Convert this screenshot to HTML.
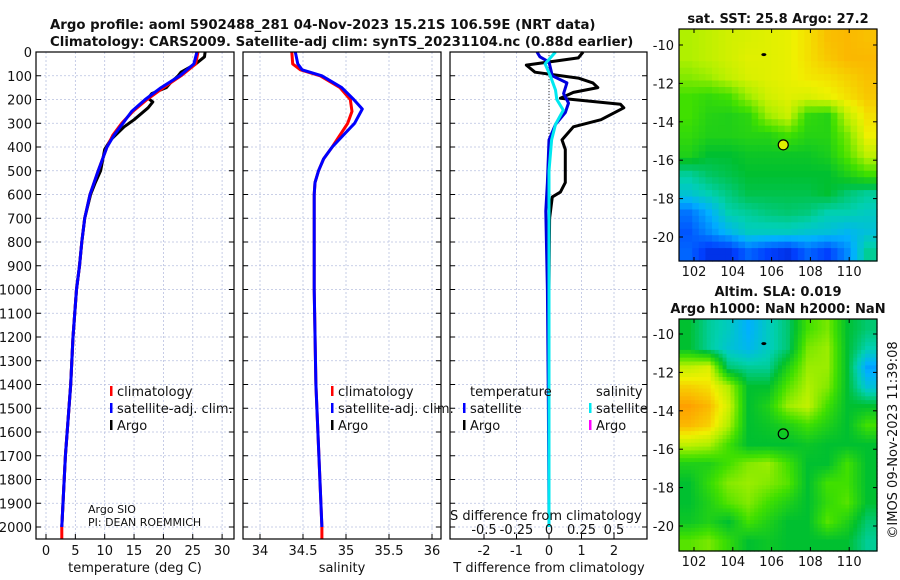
<!DOCTYPE html>
<html><head><meta charset="utf-8"><style>
body{margin:0;background:#fff;}
svg{display:block;font-family:"DejaVu Sans","Liberation Sans",sans-serif;}
</style></head><body>
<svg id="c" width="900" height="580" viewBox="0 0 900 580"></svg>
<script>
// ---- data ----
const climDepth=[0,50,100,150,200,250,300,350,400,500,600,700,800,900,1000,1200,1400,1700,2000,2050];
const climT=[25.9,25.5,23.0,20.0,17.2,14.8,12.9,11.4,10.4,8.9,7.5,6.6,6.1,5.7,5.2,4.6,4.2,3.3,2.7,2.7];
const satDepth=[0,50,100,150,200,250,300,350,400,500,600,700,800,900,1000,1200,1400,1700,2000];
const satT=[25.7,25.2,22.8,19.6,16.9,14.6,13.1,11.6,10.4,8.9,7.5,6.6,6.1,5.7,5.2,4.6,4.2,3.3,2.7];
const argoDepth=[0,20,50,85,100,130,150,175,195,210,235,285,315,370,410,500,550,600,700,800,900,1000,1200,1400,1700,2000];
const argoT=[27.1,27.0,25.5,23.0,22.5,21.2,20.5,18.0,17.4,18.2,17.4,15.0,13.3,11.0,10.0,9.3,8.4,7.6,6.6,6.1,5.7,5.2,4.6,4.2,3.3,2.7];
const climSDepth=[0,50,75,100,150,200,250,300,350,400,450,500,550,600,1000,1400,2000,2050];
const climS=[34.37,34.38,34.47,34.70,34.93,35.05,35.07,35.02,34.93,34.84,34.74,34.68,34.64,34.63,34.63,34.65,34.72,34.72];
const satSDepth=[0,50,75,100,150,200,240,300,350,400,450,500,550,600,1000,1400,2000];
const satS=[34.41,34.44,34.49,34.72,34.95,35.09,35.19,35.10,34.97,34.84,34.74,34.68,34.64,34.63,34.63,34.65,34.72];
const dArgoDepth=[0,25,55,85,110,130,150,170,195,220,235,285,315,370,410,550,590,610,700,1000,1500,2000];
const dArgoT=[1.05,0.9,-0.7,-0.43,0.9,1.35,1.5,0.75,0.35,2.2,2.3,1.6,0.75,0.4,0.5,0.5,0.35,0.1,0.02,0.0,0.0,0.0];
const dSatDepth=[0,20,42,100,130,175,215,255,305,370,550,670,1000,1500,2000];
const dSatT=[-0.37,-0.28,0.0,0.1,0.55,0.45,0.6,0.5,0.2,0.0,-0.05,-0.1,-0.05,-0.02,0.0];
const dSatSDepth=[0,50,100,160,200,245,305,370,500,1000,2000];
const dSatS=[0.05,-0.03,0.01,0.05,0.06,0.11,0.05,0.02,0.0,0.0,0.0];
const depthTicks=[0,100,200,300,400,500,600,700,800,900,1000,1100,1200,1300,1400,1500,1600,1700,1800,1900,2000];
const tTicks=[0,5,10,15,20,25,30];
const sTicks=[34,34.5,35,35.5,36];
const sTickLabels=["34","34.5","35","35.5","36"];
const dTTicks=[-2,-1,0,1,2];
const dSTicks=[-0.5,-0.25,0,0.25,0.5];
const dSTickLabels=["-0.5","-0.25","0","0.25","0.5"];
const lonTicks=[102,104,106,108,110];
const latTicks=[-10,-12,-14,-16,-18,-20];
const sstGrid=[
[0.70,0.72,0.74,0.75,0.76,0.77,0.80,0.84,0.85,0.84],
[0.70,0.72,0.74,0.76,0.76,0.77,0.80,0.83,0.85,0.85],
[0.66,0.68,0.72,0.75,0.76,0.77,0.79,0.80,0.82,0.84],
[0.60,0.58,0.60,0.68,0.74,0.76,0.75,0.77,0.80,0.83],
[0.60,0.56,0.55,0.57,0.68,0.73,0.58,0.56,0.72,0.80],
[0.58,0.55,0.55,0.56,0.56,0.60,0.56,0.56,0.65,0.78],
[0.55,0.50,0.50,0.52,0.52,0.52,0.52,0.54,0.62,0.72],
[0.42,0.46,0.48,0.50,0.50,0.50,0.50,0.50,0.55,0.60],
[0.36,0.40,0.44,0.48,0.48,0.48,0.48,0.50,0.45,0.42],
[0.22,0.30,0.40,0.42,0.44,0.45,0.44,0.40,0.40,0.38],
[0.18,0.25,0.32,0.38,0.38,0.38,0.36,0.35,0.32,0.35],
[0.20,0.12,0.12,0.20,0.15,0.12,0.20,0.15,0.25,0.42]];
const slaGrid=[
[0.50,0.42,0.38,0.30,0.38,0.45,0.60,0.65,0.50,0.45],
[0.50,0.42,0.36,0.32,0.38,0.45,0.65,0.68,0.50,0.40],
[0.72,0.75,0.45,0.42,0.42,0.55,0.68,0.68,0.50,0.28],
[0.82,0.80,0.70,0.50,0.50,0.62,0.70,0.66,0.50,0.35],
[0.88,0.85,0.74,0.50,0.55,0.68,0.72,0.60,0.50,0.50],
[0.85,0.82,0.70,0.50,0.52,0.55,0.60,0.55,0.50,0.60],
[0.72,0.70,0.60,0.50,0.50,0.50,0.52,0.50,0.50,0.50],
[0.55,0.55,0.60,0.66,0.68,0.60,0.50,0.50,0.60,0.50],
[0.50,0.58,0.66,0.68,0.66,0.62,0.50,0.60,0.60,0.50],
[0.50,0.55,0.62,0.66,0.60,0.55,0.50,0.58,0.62,0.50],
[0.52,0.55,0.50,0.60,0.55,0.50,0.50,0.62,0.55,0.45],
[0.62,0.65,0.58,0.50,0.52,0.50,0.50,0.50,0.50,0.42]];
const floatLon=106.6, floatLat=-15.2;
const prevLon=105.6, prevLat=-10.5;

// ---- drawing ----
const NS="http://www.w3.org/2000/svg";
const svg=document.getElementById('c');
function mk(tag,attrs,parent){const e=document.createElementNS(NS,tag);for(const k in attrs)e.setAttribute(k,attrs[k]);(parent||svg).appendChild(e);return e;}
function txt(x,y,s,size,anchor,weight,parent){const t=mk('text',{x:x,y:y,'font-size':size,'text-anchor':anchor||'start','font-weight':weight||'normal',fill:'#111'},parent);t.textContent=s;return t;}
const Y=d=>52+d*0.2375;
const TOP=52,BOT=539;
const panels=[{x0:36,x1:234},{x0:243,x1:441},{x0:450,x1:647}];
const xT=v=>46+v*5.87;
const xS=v=>260+(v-34)*86;
const xDT=v=>549+v*32.5;
const xDS=v=>549+v*130;

panels.forEach((p,i)=>{
  const g=mk('g',{});
  
  
  depthTicks.forEach(d=>{
    mk('line',{x1:p.x0,x2:p.x1,y1:Y(d),y2:Y(d),stroke:'#b8c0e0','stroke-width':0.8,'stroke-dasharray':'2,2'},g);
    mk('line',{x1:p.x0,x2:p.x0+5,y1:Y(d),y2:Y(d),stroke:'#000'},g);
    mk('line',{x1:p.x1-5,x2:p.x1,y1:Y(d),y2:Y(d),stroke:'#000'},g);
  });
});
function vgrid(xs,fx){xs.forEach(v=>{const x=fx(v);mk('line',{x1:x,x2:x,y1:TOP,y2:BOT,stroke:'#b8c0e0','stroke-width':0.8,'stroke-dasharray':'2,2'});mk('line',{x1:x,x2:x,y1:BOT-5,y2:BOT,stroke:'#000'});});}
vgrid(tTicks,xT);vgrid(sTicks,xS);vgrid(dTTicks,xDT);
mk('line',{x1:xDT(0),x2:xDT(0),y1:Y(0),y2:Y(420),stroke:'#333','stroke-width':1,'stroke-dasharray':'1,2'});

function line(depths,vals,fx,color,w,name){
  const pts=depths.map((d,i)=>fx(vals[i]).toFixed(1)+','+Y(d).toFixed(1)).join(' ');
  const e=mk('polyline',{points:pts,fill:'none',stroke:color,'stroke-width':w,'stroke-linejoin':'round'});
  
  
}
line(argoDepth,argoT,xT,'#000',3,'argo-temperature-line');
line(climDepth,climT,xT,'#ff0000',3,'climatology-temperature-line');
line(satDepth,satT,xT,'#0000ff',3,'satellite-temperature-line');
line(climSDepth,climS,xS,'#ff0000',3,'climatology-salinity-line');
line(satSDepth,satS,xS,'#0000ff',3,'satellite-salinity-line');
line(dArgoDepth,dArgoT,xDT,'#000',3,'argo-temperature-diff-line');
line(dSatDepth,dSatT,xDT,'#0000dd',3,'satellite-temperature-diff-line');
line(dSatSDepth,dSatS,xDS,'#00e8f0',3,'satellite-salinity-diff-line');

panels.forEach((p,i)=>{
  const r=mk('rect',{x:p.x0,y:TOP,width:p.x1-p.x0,height:BOT-TOP,fill:'none',stroke:'#000','stroke-width':1.2});
  
  
});
depthTicks.forEach(d=>{const t=txt(32,Y(d)+5,String(d),13,'end');});
tTicks.forEach(v=>{const t=txt(xT(v),555,String(v),13,'middle');});
sTicks.forEach((v,i)=>{const t=txt(xS(v),555,sTickLabels[i],13,'middle');});
dTTicks.forEach(v=>{const t=txt(xDT(v),555,String(v),13,'middle');});
dSTicks.forEach((v,i)=>{const t=txt(xDS(v),534,dSTickLabels[i],13,'middle');});

// ---- maps ----
function cmap(v){
  const st=[[0,[0,0,144]],[0.15,[0,64,255]],[0.3,[0,176,255]],[0.4,[0,208,176]],[0.5,[0,192,48]],[0.6,[64,224,0]],[0.7,[176,240,0]],[0.78,[240,240,0]],[0.88,[255,160,0]],[1,[224,80,0]]];
  for(let i=1;i<st.length;i++){if(v<=st[i][0]){const a=st[i-1],b=st[i],f=(v-a[0])/(b[0]-a[0]);return 'rgb('+a[1].map((c,k)=>Math.round(c+(b[1][k]-c)*f)).join(',')+')';}}
  return 'rgb(224,80,0)';
}
function sample(grid,fr,fc){
  const rows=grid.length,cols=grid[0].length;
  const r=Math.min(Math.max(fr-0.5,0),rows-1),c=Math.min(Math.max(fc-0.5,0),cols-1);
  const r0=Math.floor(r),c0=Math.floor(c),r1=Math.min(r0+1,rows-1),c1=Math.min(c0+1,cols-1);
  const a=r-r0,b=c-c0;
  return grid[r0][c0]*(1-a)*(1-b)+grid[r0][c1]*(1-a)*b+grid[r1][c0]*a*(1-b)+grid[r1][c1]*a*b;
}
const MX0=679,MX1=877;
const lonX=l=>694+(l-102)*19.4;
const LON0=(MX0-694)/19.4+102, LON1=(MX1-694)/19.4+102;
function drawMap(y0,y1,latY,grid,name,sub){
  const g=mk('g',{});
  
  
  const LAT0=-10-(y0-latY(-10))/19.2, LAT1=-10-(y1-latY(-10))/19.2;
  const rows=grid.length*sub,cols=grid[0].length*sub;
  const dlon=(LON1-LON0)/cols,dlat=(LAT0-LAT1)/rows;
  for(let r=0;r<rows;r++)for(let c=0;c<cols;c++){
    const v=sample(grid,(r+0.5)/sub,(c+0.5)/sub);
    const xa=lonX(LON0+c*dlon),xb=lonX(LON0+(c+1)*dlon);
    const ya=latY(LAT0-r*dlat),yb=latY(LAT0-(r+1)*dlat);
    const cell=mk('rect',{x:xa,y:ya,width:xb-xa+0.6,height:yb-ya+0.6,fill:cmap(v)},g);
    
    
  }
  mk('rect',{x:MX0,y:y0,width:MX1-MX0,height:y1-y0,fill:'none',stroke:'#000','stroke-width':1.2},g);
  lonTicks.forEach(l=>{mk('line',{x1:lonX(l),x2:lonX(l),y1:y1,y2:y1-4,stroke:'#000'},g);mk('line',{x1:lonX(l),x2:lonX(l),y1:y0,y2:y0+4,stroke:'#000'},g);txt(lonX(l),y1+15,String(l),13,'middle','normal',g);});
  latTicks.forEach(l=>{mk('line',{x1:MX0,x2:MX0+4,y1:latY(l),y2:latY(l),stroke:'#000'},g);mk('line',{x1:MX1,x2:MX1-4,y1:latY(l),y2:latY(l),stroke:'#000'},g);txt(MX0-5,latY(l)+5,String(l),13,'end','normal',g);});
  return g;
}
const latY1=l=>45+(-10-l)*19.2;
const latY2=l=>334+(-10-l)*19.2;
drawMap(29,261,latY1,sstGrid,'sst-map',3);
drawMap(319,551,latY2,slaGrid,'sla-map',5);
let e;
e=mk('circle',{cx:lonX(floatLon),cy:latY1(floatLat),r:5,fill:'#e0f000',stroke:'#000','stroke-width':1.2});
e=mk('ellipse',{cx:lonX(prevLon),cy:latY1(prevLat),rx:2.5,ry:1.5,fill:'#000'});
e=mk('circle',{cx:lonX(floatLon),cy:latY2(floatLat),r:5,fill:'none',stroke:'#000','stroke-width':1.2});
e=mk('ellipse',{cx:lonX(prevLon),cy:latY2(prevLat),rx:2.5,ry:1.5,fill:'#000'});

// ---- legends & texts ----
function leg(x,y,color,label,name){
  const g=mk('g',{});
  
  
  mk('rect',{x:x,y:y-10,width:2.5,height:10,fill:color},g);
  if(label)txt(x+7,y,label,13,'start','normal',g);
}
leg(110,396,'#ff0000','climatology','legend-climatology-t');
leg(110,413,'#0000ff','satellite-adj. clim.','legend-satellite-t');
leg(110,430,'#000','Argo','legend-argo-t');
leg(331,396,'#ff0000','climatology','legend-climatology-s');
leg(331,413,'#0000ff','satellite-adj. clim.','legend-satellite-s');
leg(331,430,'#000','Argo','legend-argo-s');
txt(470,396,'temperature',13,'start');
txt(596,396,'salinity',13,'start');
leg(463,413,'#0000ff','satellite','legend-tdiff-satellite');
leg(463,430,'#000','Argo','legend-tdiff-argo');
leg(589,413,'#00e8f0','satellite','legend-sdiff-satellite');
leg(589,430,'#ff00ff','Argo','legend-sdiff-argo');
txt(88,513,'Argo SIO',11,'start');
txt(88,526,'PI: DEAN ROEMMICH',11,'start');
txt(450,520,'S difference from climatology',13,'start');
e=txt(135,572,'temperature (deg C)',13,'middle');
e=txt(342,572,'salinity',13,'middle');
e=txt(549,572,'T difference from climatology',13,'middle');
e=txt(50,29,'Argo profile: aoml 5902488_281 04-Nov-2023 15.21S 106.59E (NRT data)',13.3,'start','bold');
e=txt(50,46,'Climatology: CARS2009. Satellite-adj clim: synTS_20231104.nc (0.88d earlier)',13.3,'start','bold');
e=txt(778,23,'sat. SST: 25.8 Argo: 27.2',13,'middle','bold');
e=txt(778,296,'Altim. SLA: 0.019',13,'middle','bold');
e=txt(778,313,'Argo h1000: NaN h2000: NaN',13,'middle','bold');
e=txt(0,0,'©IMOS 09-Nov-2023 11:39:08',13,'middle');e.setAttribute('transform','translate(897,440) rotate(-90)');
</script>
</body></html>
